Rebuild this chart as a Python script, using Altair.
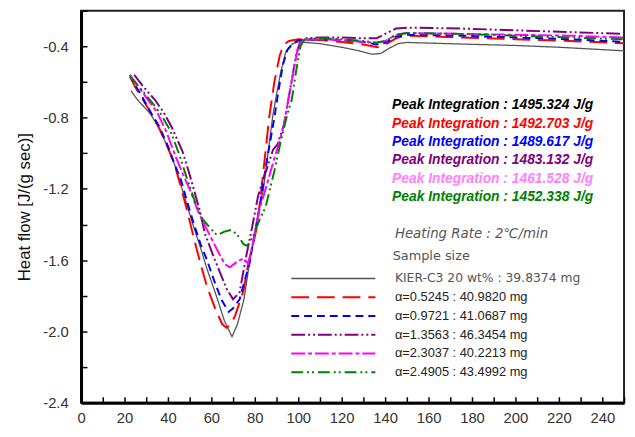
import altair as alt
import pandas as pd

# ---------------- data ----------------
series_names = [
    "KIER-C3 20 wt% : 39.8374 mg",
    "α=0.5245 : 40.9820 mg",
    "α=0.9721 : 41.0687 mg",
    "α=1.3563 : 46.3454 mg",
    "α=2.3037 : 40.2213 mg",
    "α=2.4905 : 43.4992 mg",
]
line_colors = ["#555555", "#ff0000", "#0000ff", "#800080", "#ff00ff", "#008000"]
dash_patterns = [[1, 0], [18, 8], [8, 5], [14, 3, 2, 3, 2, 3], [14, 3, 4, 3], [12, 4, 2, 3, 2, 4]]
stroke_widths = [1.3, 2, 2, 2, 2, 2]

x_kier = [23, 26, 29, 32, 36, 40, 43, 46, 49, 52, 55, 58, 62, 66, 69.5, 72, 75, 77.5, 80.7, 84, 87, 88.4, 90, 92, 94.3, 96, 97.5, 100, 110, 120, 128, 134, 138, 142, 146, 150, 175, 200, 220, 250]
y_kier = [-0.65, -0.70, -0.74, -0.78, -0.86, -0.97, -1.06, -1.18, -1.30, -1.42, -1.53, -1.65, -1.79, -1.94, -2.03, -1.96, -1.82, -1.62, -1.39, -1.20, -0.91, -0.78, -0.67, -0.54, -0.43, -0.40, -0.385, -0.375, -0.385, -0.405, -0.425, -0.444, -0.44, -0.41, -0.385, -0.378, -0.387, -0.395, -0.405, -0.425]

x_a1 = [22.5, 25, 28, 32, 36, 40, 43, 46, 49, 52, 55, 58, 62, 65, 67, 69, 71, 74.8, 77, 80.7, 83, 86.6, 89, 91.5, 93.4, 95.7, 100, 110, 120, 130, 136.5, 140, 145, 149, 175, 200, 225, 250]
y_a1 = [-0.57, -0.63, -0.69, -0.77, -0.86, -0.97, -1.06, -1.19, -1.33, -1.48, -1.62, -1.75, -1.88, -1.96, -1.98, -1.96, -1.91, -1.77, -1.62, -1.43, -1.21, -0.80, -0.60, -0.45, -0.39, -0.37, -0.36, -0.365, -0.375, -0.39, -0.405, -0.39, -0.355, -0.34, -0.35, -0.36, -0.37, -0.383]

x_a2 = [22.5, 25, 28, 32, 36, 40, 43, 46, 49, 52, 55, 58, 62, 65, 68, 70, 73, 77.5, 82, 85, 89, 91, 93, 95, 97.5, 100, 110, 120, 130, 136, 140, 145, 150, 175, 200, 225, 250]
y_a2 = [-0.56, -0.62, -0.68, -0.77, -0.85, -0.96, -1.06, -1.15, -1.28, -1.40, -1.51, -1.60, -1.74, -1.83, -1.89, -1.87, -1.82, -1.62, -1.32, -1.08, -0.80, -0.64, -0.50, -0.42, -0.385, -0.365, -0.36, -0.365, -0.375, -0.39, -0.38, -0.345, -0.335, -0.34, -0.35, -0.36, -0.375]

x_a3 = [24.5, 27, 30, 34, 38, 42, 46.7, 50, 54.4, 57, 61, 64, 67, 70, 73, 76, 79, 81.5, 84, 86, 88.4, 90.5, 93.4, 96, 99, 101, 103, 110, 120, 130, 136, 140, 145, 150, 175, 200, 225, 250]
y_a3 = [-0.56, -0.60, -0.645, -0.70, -0.77, -0.86, -0.99, -1.12, -1.31, -1.45, -1.58, -1.67, -1.76, -1.82, -1.78, -1.58, -1.40, -1.24, -1.14, -1.07, -0.98, -0.95, -0.84, -0.66, -0.45, -0.37, -0.355, -0.35, -0.35, -0.355, -0.355, -0.33, -0.30, -0.295, -0.30, -0.31, -0.32, -0.33]

x_a4 = [22.5, 25, 29, 32, 35, 39, 43.6, 47, 50.3, 54, 58, 62.6, 66, 68.5, 71.7, 74.8, 77, 79.4, 82, 85, 88, 91, 93.4, 96, 98.9, 100, 102, 110, 120, 130, 136, 140, 145, 150, 175, 200, 225, 250]
y_a4 = [-0.56, -0.60, -0.67, -0.72, -0.77, -0.87, -1.02, -1.12, -1.21, -1.33, -1.43, -1.54, -1.62, -1.64, -1.61, -1.59, -1.62, -1.49, -1.32, -1.20, -1.07, -0.95, -0.84, -0.66, -0.47, -0.40, -0.365, -0.36, -0.365, -0.375, -0.38, -0.37, -0.335, -0.325, -0.33, -0.335, -0.34, -0.35]

x_a5 = [22.5, 25, 29, 33, 36.7, 41, 45, 49, 53, 56, 59.4, 62.6, 66, 69.4, 72, 74.8, 76.6, 79, 82, 85, 89, 92, 95, 97, 99, 101, 103, 110, 120, 130, 136, 140, 145, 150, 175, 200, 225, 250]
y_a5 = [-0.57, -0.605, -0.66, -0.72, -0.78, -0.87, -1.00, -1.15, -1.29, -1.37, -1.42, -1.46, -1.44, -1.43, -1.46, -1.51, -1.52, -1.47, -1.38, -1.30, -1.10, -0.93, -0.78, -0.70, -0.54, -0.40, -0.36, -0.355, -0.36, -0.37, -0.38, -0.37, -0.335, -0.325, -0.33, -0.34, -0.35, -0.36]

peak_labels = [
    "Peak Integration : 1495.324 J/g",
    "Peak Integration : 1492.703 J/g",
    "Peak Integration : 1489.617 J/g",
    "Peak Integration : 1483.132 J/g",
    "Peak Integration : 1461.528 J/g",
    "Peak Integration : 1452.338 J/g",
]
peak_colors = ["#000000", "#ff0000", "#0000ff", "#800080", "#ff80ff", "#008000"]

heating_text = "Heating Rate : 2℃/min"
sample_text = "Sample size"
y_title = "Heat flow [J/(g sec)]"

x_label_ticks = list(range(0, 241, 20))
y_label_ticks = [-2.4, -2.0, -1.6, -1.2, -0.8, -0.4]
x_minor_ticks = list(range(0, 251, 10))
y_minor_ticks = [-2.4, -2.2, -2.0, -1.8, -1.6, -1.4, -1.2, -1.0, -0.8, -0.6, -0.4, -0.2]

# ---------------- layout constants ----------------
W, H = 550, 397
xs = alt.Scale(domain=[0, 250], nice=False, zero=False)
ys = alt.Scale(domain=[-2.4, -0.2], nice=False, zero=False)
FONT = "Liberation Sans"

xs_all = [x_kier, x_a1, x_a2, x_a3, x_a4, x_a5]
ys_all = [y_kier, y_a1, y_a2, y_a3, y_a4, y_a5]
rows = []
for name, sw, xv, yv in zip(series_names, stroke_widths, xs_all, ys_all):
    for i, (a, b) in enumerate(zip(xv, yv)):
        rows.append({"series": name, "x": a, "y": b, "idx": i, "sw": sw})
df_lines = pd.DataFrame(rows)

# legend rows (positions derived from row index)
leg_x0, leg_x1, leg_tx = 96.8, 135.5, 144.5
leg_y0, leg_step = -1.703, 0.1053
df_leg = pd.DataFrame({
    "series": series_names,
    "x0": [leg_x0] * 6,
    "x1": [leg_x1] * 6,
    "tx": [leg_tx] * 6,
    "y": [leg_y0 - i * leg_step for i in range(6)],
    "sw": stroke_widths,
})
df_leg_kier = df_leg.iloc[:1]
df_leg_alpha = df_leg.iloc[1:]

peak_y0, peak_step = -0.732, 0.103
df_peak = pd.DataFrame({
    "label": peak_labels,
    "c": peak_colors,
    "x": [143.2] * 6,
    "y": [peak_y0 - i * peak_step for i in range(6)],
})

df_head = pd.DataFrame({"label": [heating_text], "x": [144.5], "y": [-1.452]})
df_sample = pd.DataFrame({"label": [sample_text], "x": [143.5], "y": [-1.578]})

color_enc = alt.Color("series:N", scale=alt.Scale(domain=series_names, range=line_colors), legend=None)
dash_enc = alt.StrokeDash("series:N", scale=alt.Scale(domain=series_names, range=dash_patterns), legend=None)
sw_enc = alt.StrokeWidth("sw:Q", scale=None)

x_main_axis = alt.Axis(
    values=x_label_ticks, ticks=False, tickSize=0, grid=False, title=None,
    domainColor="#000000", domainWidth=3, labelFont=FONT, labelFontSize=15,
    labelColor="#333333", labelPadding=8, labelFlush=False, labelOverlap=False,
)
y_main_axis = alt.Axis(
    values=y_label_ticks, ticks=False, tickSize=0, grid=False,
    labelExpr="(datum.value < 0 ? '-' : '') + format(abs(datum.value), '.1f')",
    domainColor="#000000", domainWidth=3, labelFont=FONT, labelFontSize=15,
    labelColor="#333333", labelPadding=13, labelOverlap=False,
    title=y_title, titleFont=FONT, titleFontSize=17, titleFontWeight="normal",
    titleColor="#111111", titlePadding=9,
)

lines = alt.Chart(df_lines).mark_line(clip=True).encode(
    x=alt.X("x:Q", scale=xs, axis=x_main_axis),
    y=alt.Y("y:Q", scale=ys, axis=y_main_axis),
    color=color_enc,
    strokeDash=dash_enc,
    strokeWidth=sw_enc,
    detail="series:N",
    order="idx:Q",
)

leg_lines = alt.Chart(df_leg).mark_rule().encode(
    x=alt.X("x0:Q", scale=xs, axis=None),
    x2="x1:Q",
    y=alt.Y("y:Q", scale=ys, axis=None),
    color=color_enc,
    strokeDash=dash_enc,
    strokeWidth=sw_enc,
)

leg_text_kier = alt.Chart(df_leg_kier).mark_text(
    align="left", baseline="middle", font="DejaVu Sans", fontSize=12.5, color="#555555"
).encode(
    x=alt.X("tx:Q", scale=xs, axis=None),
    y=alt.Y("y:Q", scale=ys, axis=None),
    text="series:N",
)

leg_text_alpha = alt.Chart(df_leg_alpha).mark_text(
    align="left", baseline="middle", font=FONT, fontSize=13, color="#222222"
).encode(
    x=alt.X("tx:Q", scale=xs, axis=None),
    y=alt.Y("y:Q", scale=ys, axis=None),
    text="series:N",
)

head_text = alt.Chart(df_head).mark_text(
    align="left", baseline="middle", font="DejaVu Sans", fontSize=13.5,
    fontStyle="italic", color="#555555"
).encode(
    x=alt.X("x:Q", scale=xs, axis=None),
    y=alt.Y("y:Q", scale=ys, axis=None),
    text="label:N",
)

sample_t = alt.Chart(df_sample).mark_text(
    align="left", baseline="middle", font="DejaVu Sans", fontSize=13, color="#555555"
).encode(
    x=alt.X("x:Q", scale=xs, axis=None),
    y=alt.Y("y:Q", scale=ys, axis=None),
    text="label:N",
)

# tick-only axes placed on the opposite side with negative offset so ticks point inward
x_tick_axis = alt.Axis(
    orient="top", offset=-H, values=x_minor_ticks, labels=False, domain=False,
    ticks=True, tickSize=6, tickColor="#000000", tickWidth=1.5, grid=False, title=None,
)
y_tick_axis = alt.Axis(
    orient="right", offset=-W, values=y_minor_ticks, labels=False, domain=False,
    ticks=True, tickSize=6, tickColor="#000000", tickWidth=1.5, grid=False, title=None,
)

peak_text = alt.Chart(df_peak).mark_text(
    align="left", baseline="middle", font=FONT, fontSize=14,
    fontStyle="italic", fontWeight="bold"
).encode(
    x=alt.X("x:Q", scale=xs, axis=x_tick_axis),
    y=alt.Y("y:Q", scale=ys, axis=y_tick_axis),
    text="label:N",
    fill=alt.Fill("c:N", scale=None),
)

chart = alt.layer(
    lines, leg_lines, leg_text_kier, leg_text_alpha, head_text, sample_t, peak_text
).resolve_axis(
    x="independent", y="independent"
).properties(
    width=W, height=H,
    autosize=alt.AutoSizeParams(type="none"),
    padding={"left": 74, "top": 0, "right": 3, "bottom": 30},
).configure_view(
    stroke="#222222", strokeWidth=2
)

chart.save("out.html", embed_options={"renderer": "svg", "actions": False})
